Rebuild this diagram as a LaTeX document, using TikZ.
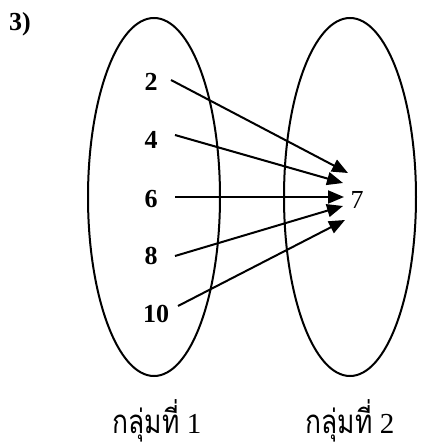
\documentclass[tikz,border=0pt]{standalone}
\usepackage{fontspec}
\setmainfont{Liberation Serif}
\newfontfamily\thaifont[Script=Thai,FakeStretch=0.8]{Loma}
\usetikzlibrary{arrows.meta}
\begin{document}
\begin{tikzpicture}[x=1pt,y=1pt,
  setshape/.style={line width=2pt},
  num/.style={font=\fontsize{26}{30}\selectfont\bfseries, inner sep=1pt},
  arr/.style={line width=2pt, -{Triangle[length=16pt,width=13pt]}},
  lab/.style={font=\fontsize{29}{34}\selectfont, inner sep=0pt, anchor=base}]
\useasboundingbox (0,0) rectangle (423,448);
\draw[setshape] (154,251) ellipse (66 and 179);
\draw[setshape] (350,251) ellipse (66 and 179);
\node[num] (q) at (20,424) {3)};
\node[num] (n2) at (151,366) {2};
\node[num] (n4) at (151,308) {4};
\node[num] (n6) at (151,249) {6};
\node[num] (n8) at (151,192) {8};
\node[num] (n10) at (156,134) {10};
\node[num,font=\fontsize{26}{30}\selectfont] (n7) at (357,248) {7};
\coordinate (s2) at (171,368);
\coordinate (s4) at (175,313);
\coordinate (s6) at (175,251);
\coordinate (s8) at (175,192);
\coordinate (s10) at (178,142);
\coordinate (t2) at (348,275);
\coordinate (t4) at (343,265);
\coordinate (t6) at (344,251);
\coordinate (t8) at (343,242);
\coordinate (t10) at (345,228);
\draw[arr] (s2) -- (t2);
\draw[arr] (s4) -- (t4);
\draw[arr] (s6) -- (t6);
\draw[arr] (s8) -- (t8);
\draw[arr] (s10) -- (t10);
\node[lab] (g1) at (157,14) {{\thaifont\fontsize{33}{38}\selectfont กลุ่มที่} 1};
\node[lab] (g2) at (350,14) {{\thaifont\fontsize{33}{38}\selectfont กลุ่มที่} 2};
\end{tikzpicture}
\end{document}
